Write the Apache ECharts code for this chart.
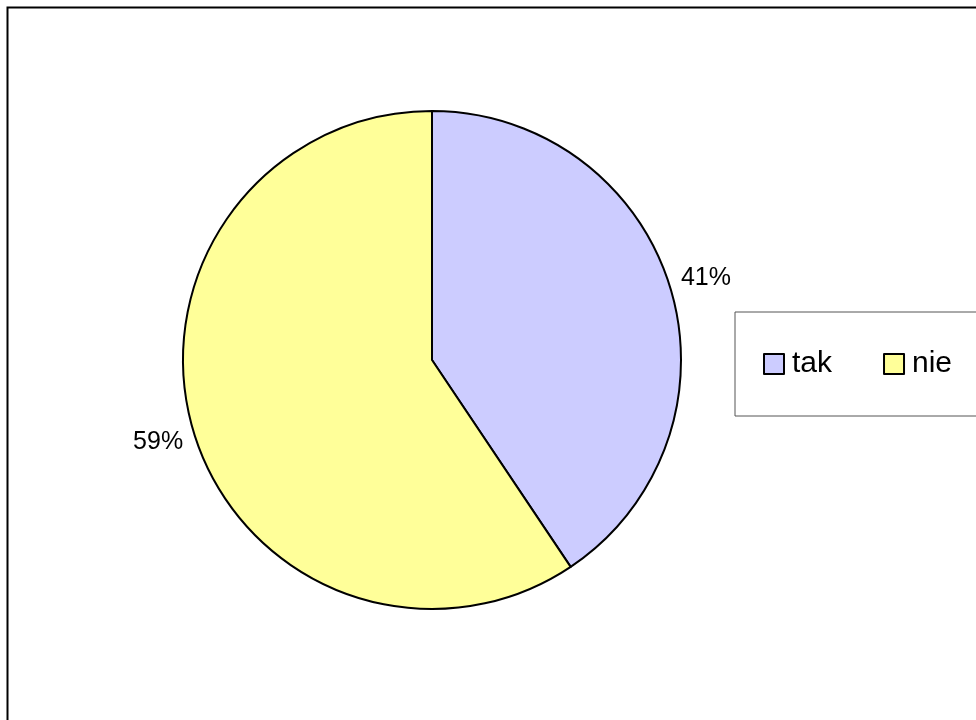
<!DOCTYPE html>
<html>
<head>
<meta charset="utf-8">
<script src="https://cdn.jsdelivr.net/npm/echarts@6/dist/echarts.min.js"></script>
<style>
html,body{margin:0;padding:0;background:#fff;}
#chart{width:976px;height:720px;}
</style>
</head>
<body>
<div id="chart"></div>
<script>
const categories = ['tak', 'nie'];
const values = [40.6, 59.4];
const colors = ['#CCCCFF', '#FFFF99'];

const chart = echarts.init(document.getElementById('chart'), null, {renderer: 'canvas'});
const FONT = '"Liberation Sans", Arial, sans-serif';

chart.setOption({
  backgroundColor: '#ffffff',
  animation: false,
  graphic: [{
    type: 'rect',
    left: 5, top: 5,
    shape: {x: 0, y: 0, width: 1200, height: 1000},
    style: {fill: 'none', stroke: '#000', lineWidth: 2},
    silent: true
  }],
  legend: {
    left: 735,
    top: 312,
    width: 400,
    orient: 'horizontal',
    padding: [37, 60, 37, 28],
    borderColor: '#555',
    borderWidth: 1,
    itemWidth: 20,
    itemHeight: 20,
    itemGap: 51,
    icon: 'rect',
    itemStyle: {borderColor: '#000', borderWidth: 2},
    textStyle: {fontFamily: FONT, fontSize: 30, color: '#000', lineHeight: 30, padding: [0, 0, 0, 3]},
    data: categories
  },
  series: [{
    type: 'pie',
    center: [432, 360],
    radius: 249,
    startAngle: 90,
    clockwise: true,
    silent: true,
    itemStyle: {borderColor: '#000', borderWidth: 2},
    label: {
      show: true,
      position: 'outside',
      fontFamily: FONT,
      fontSize: 25,
      color: '#000',
      distanceToLabelLine: 3,
      formatter: p => Math.round(p.percent) + '%'
    },
    labelLine: {show: false, length: 8, length2: 0},
    labelLayout: function (p) {
      const cyLabel = p.labelRect.y + p.labelRect.height / 2;
      return {dy: cyLabel < 360 ? -7 : 7};
    },
    data: categories.map((c, i) => ({name: c, value: values[i], itemStyle: {color: colors[i]}}))
  }]
});
</script>
</body>
</html>
